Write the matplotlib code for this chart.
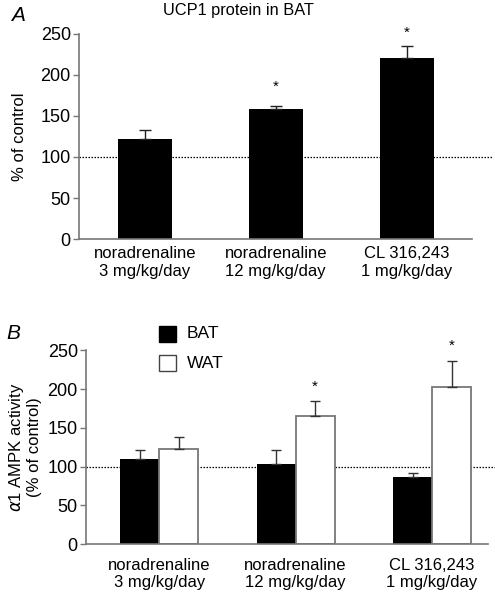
import numpy as np
import matplotlib
matplotlib.use('Agg')
import matplotlib.pyplot as plt
from matplotlib.patches import Rectangle

plt.rcParams['font.family'] = ['Liberation Sans', 'DejaVu Sans']
plt.rcParams['font.size'] = 12

# data
groups = ['noradrenaline\n3 mg/kg/day', 'noradrenaline\n12 mg/kg/day', 'CL 316,243\n1 mg/kg/day']
ucp1 = [122, 158.5, 221]
ucp1_err = [11, 3, 13.5]
ucp1_star = [None, 186, 251]   # height of the significance asterisk

bat = [110, 103.5, 86]
bat_err = [12, 18, 5.5]
wat = [123, 165.5, 202.5]
wat_err = [15, 19, 34.5]
wat_star = [None, 203, 256]

yticks = [0, 50, 100, 150, 200, 250]
axis_grey = '#777777'

fig = plt.figure(figsize=(4.95, 5.92), dpi=100)


def style_axes(ax, xpad):
    for s in ['top', 'right']:
        ax.spines[s].set_visible(False)
    ax.spines['left'].set_color(axis_grey)
    ax.spines['bottom'].set_color(axis_grey)
    ax.spines['left'].set_linewidth(1.2)
    ax.spines['bottom'].set_linewidth(1.2)
    ax.spines['left'].set_bounds(0, 250)
    ax.set_ylim(0, 250)
    ax.set_yticks(yticks)
    ax.tick_params(axis='y', length=4, width=1.0, color=axis_grey, pad=2, labelsize=13)
    ax.tick_params(axis='x', length=0, pad=xpad, labelsize=12)
    ax.axhline(100, xmax=1.05, color='black', lw=0.9, ls=(0, (1.2, 1.2)), zorder=1, clip_on=False)


# panel A
axA = fig.add_axes([0.160, 0.596, 0.794, 0.347])
x = np.arange(len(groups))
axA.bar(x, ucp1, width=0.41, color='black', zorder=2)
axA.errorbar(x, ucp1, yerr=[np.zeros(3), ucp1_err], fmt='none', ecolor='#222222',
             elinewidth=1.0, capsize=4, capthick=1.0, zorder=3)
for i in range(len(x)):
    if ucp1_star[i] is not None:
        axA.text(x[i], ucp1_star[i], '*', ha='center', va='center', fontsize=11, clip_on=False)
axA.set_xlim(-0.5, 2.5)
axA.set_xticks(x)
axA.set_xticklabels(groups, linespacing=1.2)
axA.set_ylabel('% of control', fontsize=12, labelpad=10)
style_axes(axA, 5)
fig.text(238 / 495, 1 - 11 / 592, 'UCP1 protein in BAT', fontsize=11.8, ha='center', va='center')
fig.text(0.022, 0.974, 'A', fontsize=15, style='italic', va='center')

# panel B
axB = fig.add_axes([0.174, 0.081, 0.812, 0.327])
w = 0.286
axB.bar(x - w / 2, bat, width=w, color='black', zorder=2)
axB.bar(x + w / 2, wat, width=w, color='white', edgecolor=axis_grey, linewidth=1.3, zorder=2)
axB.errorbar(x - w / 2, bat, yerr=[np.zeros(3), bat_err], fmt='none', ecolor='#333333',
             elinewidth=1.0, capsize=3.5, capthick=1.0, zorder=3)
axB.errorbar(x + w / 2, wat, yerr=[np.zeros(3), wat_err], fmt='none', ecolor='#333333',
             elinewidth=1.0, capsize=3.5, capthick=1.0, zorder=3)
for i in range(len(x)):
    if wat_star[i] is not None:
        axB.text(x[i] + w / 2, wat_star[i], '*', ha='center', va='center', fontsize=11, clip_on=False)
axB.set_xlim(-0.535, 2.41)
axB.set_xticks(x)
axB.set_xticklabels(groups, linespacing=1.2)
axB.set_ylabel('$\\alpha$1 AMPK activity\n(% of control)', fontsize=12, labelpad=4, linespacing=1.05)
style_axes(axB, 10)
fig.text(0.012, 0.437, 'B', fontsize=15, style='italic', va='center')

# legend boxes
fig.patches.append(Rectangle((159 / 495, 1 - 342 / 592), 17 / 495, 16 / 592, transform=fig.transFigure,
                             facecolor='black', edgecolor='black', lw=1))
fig.patches.append(Rectangle((159 / 495, 1 - 371 / 592), 17 / 495, 16 / 592, transform=fig.transFigure,
                             facecolor='white', edgecolor='#444444', lw=1))
fig.text(187 / 495, 1 - 334 / 592, 'BAT', fontsize=12.5, va='center')
fig.text(187 / 495, 1 - 363 / 592, 'WAT', fontsize=12.5, va='center')

fig.savefig('out.png', dpi=100)
